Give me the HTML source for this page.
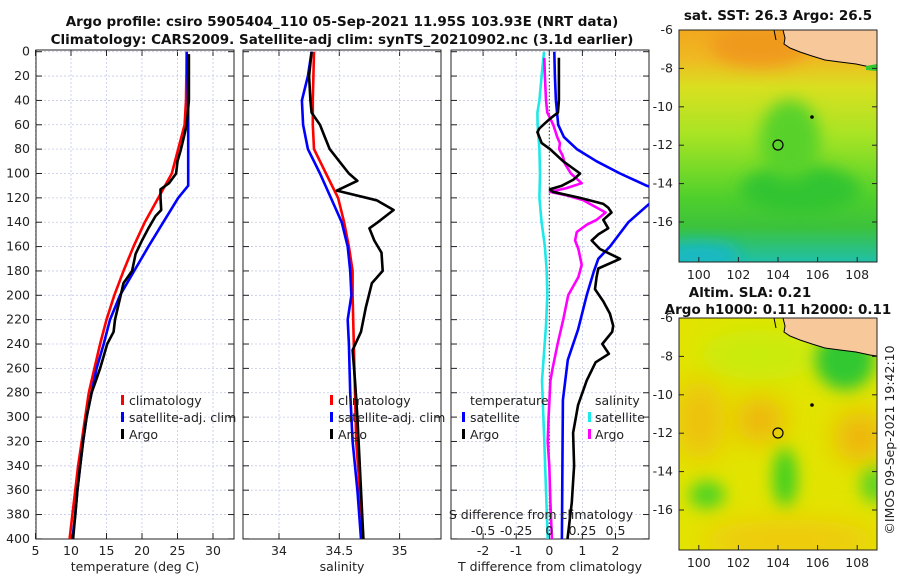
<!DOCTYPE html>
<html><head><meta charset="utf-8"><style>
body{margin:0;background:#fff;}
svg{display:block;font-family:"DejaVu Sans","Liberation Sans",sans-serif;}
.t{font-size:12.5px;fill:#222;}
.b{font-size:13.5px;font-weight:bold;fill:#111;}
</style></head><body>
<svg id="fig" width="900" height="580" viewBox="0 0 900 580">
<defs>
<filter id="blur8" x="-100%" y="-100%" width="300%" height="300%"><feGaussianBlur stdDeviation="8"/></filter>
<filter id="blur14" x="-100%" y="-100%" width="300%" height="300%"><feGaussianBlur stdDeviation="14"/></filter>
<clipPath id="c1"><rect x="36" y="50" width="198" height="489"/></clipPath>
<clipPath id="c2"><rect x="243" y="50" width="198" height="489"/></clipPath>
<clipPath id="c3"><rect x="451" y="50" width="198" height="489"/></clipPath>
<clipPath id="m1"><rect x="679" y="30" width="198" height="232"/></clipPath>
<clipPath id="m2"><rect x="679" y="318" width="198" height="232"/></clipPath>
<linearGradient id="sstg" x1="0" y1="0" x2="0" y2="1">
<stop offset="0" stop-color="#f2a81e"/><stop offset="0.12" stop-color="#f0b822"/><stop offset="0.25" stop-color="#d8e020"/><stop offset="0.45" stop-color="#a8e424"/><stop offset="0.6" stop-color="#78da28"/><stop offset="0.72" stop-color="#50d02c"/><stop offset="0.85" stop-color="#3cc23c"/><stop offset="1" stop-color="#20c0a8"/>
</linearGradient>
</defs>
<text class="b" x="342" y="26" text-anchor="middle">Argo profile: csiro 5905404_110 05-Sep-2021 11.95S 103.93E (NRT data)</text>
<text class="b" x="342" y="44" text-anchor="middle">Climatology: CARS2009. Satellite-adj clim: synTS_20210902.nc (3.1d earlier)</text>
<g id="axes"></g>
<g id="maps">
<g clip-path="url(#m1)">
<rect x="679" y="30" width="198" height="232" fill="url(#sstg)"/>
<ellipse cx="760" cy="45" rx="50" ry="22" fill="#f09a1a" filter="url(#blur8)"/>
<ellipse cx="800" cy="190" rx="60" ry="25" fill="#30c430" filter="url(#blur8)"/>
<ellipse cx="790" cy="140" rx="30" ry="40" fill="#58d22a" filter="url(#blur8)"/>
<ellipse cx="700" cy="255" rx="40" ry="12" fill="#18b8c8" filter="url(#blur8)"/>
<path d="M783,30 L785,38 L784,44 L790,48 L800,52 L812,56 L825,60 L840,62 L856,64 L870,67 L877,68 L877,30 Z" fill="#f7c89a" stroke="#000" stroke-width="1"/>
<path d="M866,66 L877,64 L877,71 L866,70 Z" fill="#30c830"/>
<path d="M774,30 L776,40" stroke="#000" stroke-width="1" fill="none"/>
<circle cx="778" cy="145" r="5" fill="none" stroke="#000" stroke-width="1.2"/>
<circle cx="812" cy="117" r="1.8" fill="#000"/>
</g>
<rect x="679" y="30" width="198" height="232" fill="none" stroke="#222" stroke-width="1"/>
<g clip-path="url(#m2)">
<rect x="679" y="318" width="198" height="232" fill="#e2e400"/>
<ellipse cx="760" cy="355" rx="60" ry="25" fill="#c8ec10" filter="url(#blur14)"/>
<ellipse cx="760" cy="420" rx="25" ry="22" fill="#f0b010" filter="url(#blur14)"/>
<ellipse cx="860" cy="437" rx="25" ry="25" fill="#f0b010" filter="url(#blur14)"/>
<ellipse cx="700" cy="420" rx="25" ry="40" fill="#eec010" filter="url(#blur14)"/>
<ellipse cx="845" cy="360" rx="30" ry="30" fill="#30c830" filter="url(#blur8)"/>
<ellipse cx="785" cy="478" rx="12" ry="30" fill="#40d020" filter="url(#blur8)"/>
<ellipse cx="707" cy="495" rx="18" ry="14" fill="#50d420" filter="url(#blur8)"/>
<ellipse cx="875" cy="485" rx="15" ry="18" fill="#60d420" filter="url(#blur8)"/>
<ellipse cx="790" cy="540" rx="90" ry="20" fill="#f0c810" filter="url(#blur14)"/>
<path d="M783,318 L785,326 L784,332 L790,336 L800,340 L812,344 L825,348 L840,350 L856,352 L870,355 L877,356 L877,318 Z" fill="#f7c89a" stroke="#000" stroke-width="1"/>
<path d="M774,318 L776,328" stroke="#000" stroke-width="1" fill="none"/>
<circle cx="778" cy="433" r="5" fill="none" stroke="#000" stroke-width="1.2"/>
<circle cx="812" cy="405" r="1.8" fill="#000"/>
</g>
<rect x="679" y="318" width="198" height="232" fill="none" stroke="#222" stroke-width="1"/>
<text class="b" x="778" y="20" text-anchor="middle">sat. SST: 26.3 Argo: 26.5</text>
<text class="b" x="750" y="297" text-anchor="middle">Altim. SLA: 0.21</text>
<text class="b" x="778" y="314" text-anchor="middle">Argo h1000: 0.11 h2000: 0.11</text>
<text class="t" transform="translate(894,440) rotate(-90)" text-anchor="middle">©IMOS 09-Sep-2021 19:42:10</text>
</g>
</svg>
<script>
// depths (m)
const depthTicks=[0,20,40,60,80,100,120,140,160,180,200,220,240,260,280,300,320,340,360,380,400];
const tTicks=[5,10,15,20,25,30];
const sTicks=[34,34.5,35];
const dTTicks=[-2,-1,0,1,2];
const dSTicks=[-0.5,-0.25,0,0.25,0.5];
const dSTickLabels=["-0.5","-0.25","0","0.25","0.5"];
const mapLonTicks=[100,102,104,106,108];
const mapLatTicks=[-6,-8,-10,-12,-14,-16];
// temperature
const climTD=[0,40,60,80,100,120,140,160,180,200,220,240,260,280,300,320,340,360,380,400];
const climT=[26.3,26.2,26.0,25.1,24.2,22.3,20.4,18.8,17.4,16.1,15.0,14.1,13.3,12.5,12.0,11.5,11.0,10.6,10.2,9.8];
const satTD=[0,20,50,110,120,140,160,180,200,220,240,260,280,300,320,340,360,380,400];
const satT=[26.3,26.4,26.5,26.5,25.1,23.0,20.9,18.9,16.9,15.5,14.6,13.6,12.9,12.2,11.7,11.3,10.9,10.6,10.2];
const argoTD=[2,40,60,70,80,90,100,108,113,120,130,135,145,155,166,180,190,200,220,230,240,250,260,272,280,300,320,340,360,380,400];
const argoT=[26.6,26.6,26.3,25.9,25.5,25.0,24.8,23.8,22.6,22.6,22.7,21.9,20.9,20.0,19.1,18.6,17.4,17.0,16.2,16.0,15.1,14.6,14.1,13.4,12.9,12.2,11.7,11.3,10.9,10.6,10.3];
// salinity
const climSD=[0,40,60,80,100,120,140,160,180,200,240,280,320,360,400];
const climS=[34.29,34.28,34.28,34.29,34.39,34.49,34.54,34.58,34.61,34.61,34.62,34.63,34.64,34.67,34.70];
const satSD=[0,20,40,60,80,100,120,140,160,180,200,220,240,280,320,360,400];
const satS=[34.27,34.24,34.19,34.20,34.24,34.34,34.43,34.52,34.57,34.59,34.60,34.57,34.58,34.59,34.61,34.65,34.68];
const argoSD=[0,20,40,50,60,70,80,90,100,106,114,122,130,140,145,155,165,180,190,210,230,245,270,300,340,400];
const argoS=[34.27,34.25,34.26,34.27,34.34,34.38,34.42,34.50,34.58,34.65,34.48,34.81,34.95,34.82,34.75,34.79,34.85,34.86,34.77,34.72,34.68,34.61,34.63,34.65,34.67,34.70];
// differences from climatology
const satDTD=[0,20,40,60,70,80,90,100,110,115,123,140,160,170,180,200,228,253,286,330,400];
const satDT=[0.15,0.17,0.20,0.27,0.44,0.83,1.43,2.14,2.94,3.6,3.1,2.39,1.83,1.48,1.35,1.13,0.87,0.56,0.41,0.40,0.38];
const argoDTD=[5,40,50,55,60,63,66,75,80,90,100,105,110,113,115,120,125,128,132,138,145,150,155,162,170,178,185,195,205,215,225,230,240,248,255,270,290,313,340,370,400];
const argoDT=[0.29,0.29,0.26,0.02,-0.18,-0.30,-0.36,-0.23,0.02,0.42,0.93,0.73,0.38,0.02,0.1,0.93,1.63,1.78,1.88,1.63,1.78,1.48,1.28,1.53,2.14,1.48,1.43,1.38,1.63,1.83,1.93,1.9,1.6,1.8,1.4,1.13,0.87,0.72,0.75,0.68,0.55];
const satDSD=[0,20,40,50,60,80,100,120,140,160,180,200,225,270,320,360,400];
const satDS=[-0.04,-0.058,-0.075,-0.09,-0.088,-0.075,-0.07,-0.075,-0.058,-0.033,-0.02,-0.015,-0.025,-0.055,-0.038,-0.025,-0.012];
const argoDSD=[5,20,40,50,60,70,75,80,85,92,100,108,112,115,118,122,128,132,138,142,148,155,162,175,185,200,220,240,260,270,300,320,340,370,400];
const argoDS=[-0.038,-0.033,-0.025,-0.015,0.03,0.06,0.08,0.075,0.10,0.118,0.163,0.245,0.13,0.005,0.13,0.258,0.358,0.425,0.358,0.283,0.208,0.195,0.22,0.245,0.22,0.143,0.105,0.063,0.025,0.008,-0.005,-0.012,0,0.008,0.02];

const NS='http://www.w3.org/2000/svg';
const root=document.getElementById('axes');
const yD=d=>51.7+d*1.218;
const x1=t=>35.5+(t-5)*7.1;
const x2=s=>279+(s-34)*120.6;
const x3=t=>549.3+t*33.1;
const x3s=s=>549.3+s*132.4;
function mk(tag,attrs,parent){const e=document.createElementNS(NS,tag);for(const k in attrs)e.setAttribute(k,attrs[k]);(parent||root).appendChild(e);return e;}
function panel(name,L,R,xs,ticks,labels,xlabel,clip){
  const g=mk('g',{});
  
  
  ticks.forEach(v=>{const x=xs(v);
    const gl=mk('line',{x1:x,x2:x,y1:50,y2:539,stroke:'#c4c8e8','stroke-width':0.8,'stroke-dasharray':'2,2'},g);
    
    
    mk('line',{x1:x,x2:x,y1:539,y2:533,stroke:'#222'},g);mk('line',{x1:x,x2:x,y1:50,y2:56,stroke:'#222'},g);});
  depthTicks.forEach(d=>{const y=yD(d);
    const gl=mk('line',{x1:L,x2:R,y1:y,y2:y,stroke:'#c4c8e8','stroke-width':0.8,'stroke-dasharray':'2,2'},g);
    
    
    mk('line',{x1:L,x2:L+6,y1:y,y2:y,stroke:'#222'},g);mk('line',{x1:R,x2:R-6,y1:y,y2:y,stroke:'#222'},g);});
  const fr=mk('rect',{x:L,y:50,width:R-L,height:489,fill:'none',stroke:'#222','stroke-width':1},g);
  
  
  ticks.forEach((v,i)=>{const t=mk('text',{x:xs(v),y:555,'text-anchor':'middle',class:'t'},g);t.textContent=labels[i];
    
    });
  const xl=mk('text',{x:(L+R)/2,y:571,'text-anchor':'middle',class:'t'},g);xl.textContent=xlabel;
  
  
  return mk('g',{'clip-path':'url(#'+clip+')'},g);
}
function line(g,ds,vs,xs,color,name,w){
  const pts=ds.map((d,i)=>xs(vs[i]).toFixed(1)+','+yD(d).toFixed(1)).join(' ');
  const p=mk('polyline',{points:pts,fill:'none',stroke:color,'stroke-width':w||2.6,'stroke-linejoin':'round'},g);
  
  
}
function txt(x,y,s,name,anchor){const t=mk('text',{x:x,y:y,class:'t','text-anchor':anchor||'start'});t.textContent=s;
  
  return t;}
function swatch(x,y,c){const r=mk('rect',{x:x,y:y-10,width:3,height:10,fill:c});
  
  }
// depth labels
depthTicks.forEach(d=>{txt(30,yD(d)+4,String(d),'y-tick-label','end');});
// panel 1
const g1=panel('temperature-panel',36,234,x1,tTicks,tTicks.map(String),'temperature (deg C)','c1');
line(g1,climTD,climT,x1,'#f00','climatology-temperature-line');
line(g1,satTD,satT,x1,'#00f','satellite-temperature-line');
line(g1,argoTD,argoT,x1,'#000','argo-temperature-line');
swatch(121,405,'#f00');txt(129,405,'climatology','legend-climatology');
swatch(121,422,'#00f');txt(129,422,'satellite-adj. clim','legend-satellite');
swatch(121,439,'#000');txt(129,439,'Argo','legend-argo');
// panel 2
const g2=panel('salinity-panel',243,441,x2,sTicks,['34','34.5','35'],'salinity','c2');
line(g2,climSD,climS,x2,'#f00','climatology-salinity-line');
line(g2,satSD,satS,x2,'#00f','satellite-salinity-line');
line(g2,argoSD,argoS,x2,'#000','argo-salinity-line');
swatch(330,405,'#f00');txt(338,405,'climatology','legend-climatology-2');
swatch(330,422,'#00f');txt(338,422,'satellite-adj. clim','legend-satellite-2');
swatch(330,439,'#000');txt(338,439,'Argo','legend-argo-2');
// panel 3
const g3=panel('difference-panel',451,649,x3,dTTicks,dTTicks.map(String),'T difference from climatology','c3');
const z=mk('line',{x1:x3(0),x2:x3(0),y1:50,y2:539,stroke:'#333','stroke-width':1,'stroke-dasharray':'1.5,2'},g3);


line(g3,satDSD,satDS,x3s,'#1ee8e8','satellite-salinity-diff-line');
line(g3,argoDSD,argoDS,x3s,'#f0f','argo-salinity-diff-line');
line(g3,satDTD,satDT,x3,'#00f','satellite-temperature-diff-line');
line(g3,argoDTD,argoDT,x3,'#000','argo-temperature-diff-line');
txt(470,405,'temperature','legend-temperature-heading');
swatch(462,422,'#00f');txt(470,422,'satellite','legend-t-satellite');
swatch(462,439,'#000');txt(470,439,'Argo','legend-t-argo');
txt(595,405,'salinity','legend-salinity-heading');
swatch(588,422,'#1ee8e8');txt(595,422,'satellite','legend-s-satellite');
swatch(588,439,'#f0f');txt(595,439,'Argo','legend-s-argo');
txt(541,519,'S difference from climatology','s-axis-title','middle');
dSTicks.forEach((v,i)=>{txt(x3s(v),535,dSTickLabels[i],'s-tick-label','middle');});
// map axes
const mg=document.getElementById('maps');
function mtxt(x,y,s,a,name){const t=mk('text',{x:x,y:y,class:'t','text-anchor':a},mg);t.textContent=s;
  
  }
const lonX=l=>679+(l-99)*19.8;
const latY=(l,top)=>top+(-6-l)*19.2;
[30,318].forEach(top=>{
  mapLatTicks.forEach(l=>{const y=latY(l,top);mk('line',{x1:679,x2:684,y1:y,y2:y,stroke:'#222'},mg);mk('line',{x1:877,x2:872,y1:y,y2:y,stroke:'#222'},mg);mtxt(673,y+4,String(l),'end','lat-tick-label');});
  mapLonTicks.forEach(l=>{const x=lonX(l);mk('line',{x1:x,x2:x,y1:top+232,y2:top+227,stroke:'#222'},mg);mtxt(x,top+249,String(l),'middle','lon-tick-label');});
});
</script>
</body></html>
